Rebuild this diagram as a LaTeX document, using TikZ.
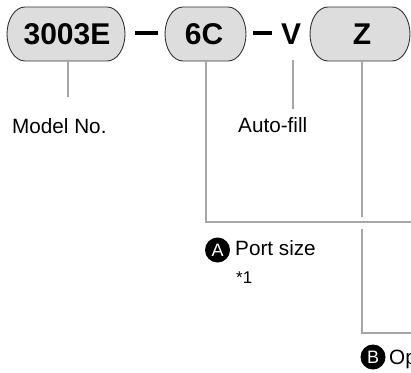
\documentclass[tikz,border=0pt]{standalone}
\usepackage{fontspec}
\setmainfont{Liberation Sans}
\begin{document}
\begin{tikzpicture}[x=1pt,y=-1pt,
  pill/.style={draw=black!80, line width=0.9pt, fill={rgb,255:red,221;green,221;blue,221}},
  code/.style={inner sep=0pt, font=\fontsize{30}{32}\selectfont\bfseries},
  lbl/.style={inner sep=0pt, anchor=base west, font=\fontsize{20.7}{24}\selectfont},
  small/.style={inner sep=0pt, anchor=base west, font=\fontsize{17}{20}\selectfont},
  lead/.style={draw={rgb,255:red,166;green,166;blue,166}, line width=2.2pt},
  badge/.style={circle, fill=black, text=white, inner sep=0pt, minimum size=25pt, font=\fontsize{18}{20}\selectfont},
  dashbar/.style={fill=black, inner sep=0pt, minimum height=4pt}]
\useasboundingbox (0,0) rectangle (411,372);
\clip (0,0) rectangle (411,372);
% pills
\path[pill] (25,7) -- (107,7) arc[start angle=-90,end angle=90,x radius=18,y radius=27] -- (25,61) arc[start angle=90,end angle=270,x radius=18,y radius=27] -- cycle;
\path[pill] (183,7) -- (228,7) arc[start angle=-90,end angle=90,x radius=18,y radius=27] -- (183,61) arc[start angle=90,end angle=270,x radius=18,y radius=27] -- cycle;
\path[pill] (328,7) -- (392,7) arc[start angle=-90,end angle=90,x radius=18,y radius=27] -- (328,61) arc[start angle=90,end angle=270,x radius=18,y radius=27] -- cycle;
\node[code] (c1) at (67,34) {3003E};
\node[code] (c2) at (204,34) {6C};
\node[code] (cv) at (291,34) {V};
\node[code] (c3) at (362,34) {Z};
\node[dashbar, minimum width=23pt] (dash1) at (146.5,33) {};
\node[dashbar, minimum width=19pt] (dash2) at (262.5,33) {};
% leaders
\coordinate (p1b) at (68,61);
\coordinate (p1e) at (68,97);
\coordinate (p2b) at (206,61);
\coordinate (p2c) at (206,222);
\coordinate (p2e) at (413,222);
\coordinate (vb) at (293,60);
\coordinate (ve) at (293,109);
\coordinate (p3b) at (362,61);
\coordinate (p3g1) at (362,217);
\coordinate (p3g2) at (362,229);
\coordinate (p3c) at (362,333);
\coordinate (p3e) at (413,333);
\draw[lead] (p1b) -- (p1e);
\draw[lead] (p2b) -- (p2c) -- (p2e);
\draw[lead] (vb) -- (ve);
\draw[lead] (p3b) -- (p3g1);
\draw[lead] (p3g2) -- (p3c) -- (p3e);
% labels
\node[lbl] (model) at (12,133) {Model No.};
\node[lbl] (auto) at (238,132) {Auto-fill};
\node[badge] (ba) at (217.5,250) {A};
\node[lbl] (port) at (235,255) {Port size};
\node[small] (fn) at (236,283) {*1};
\node[badge] (bb) at (373,357) {B};
\node[lbl] (opt) at (389,364) {Op};
\end{tikzpicture}
\end{document}
